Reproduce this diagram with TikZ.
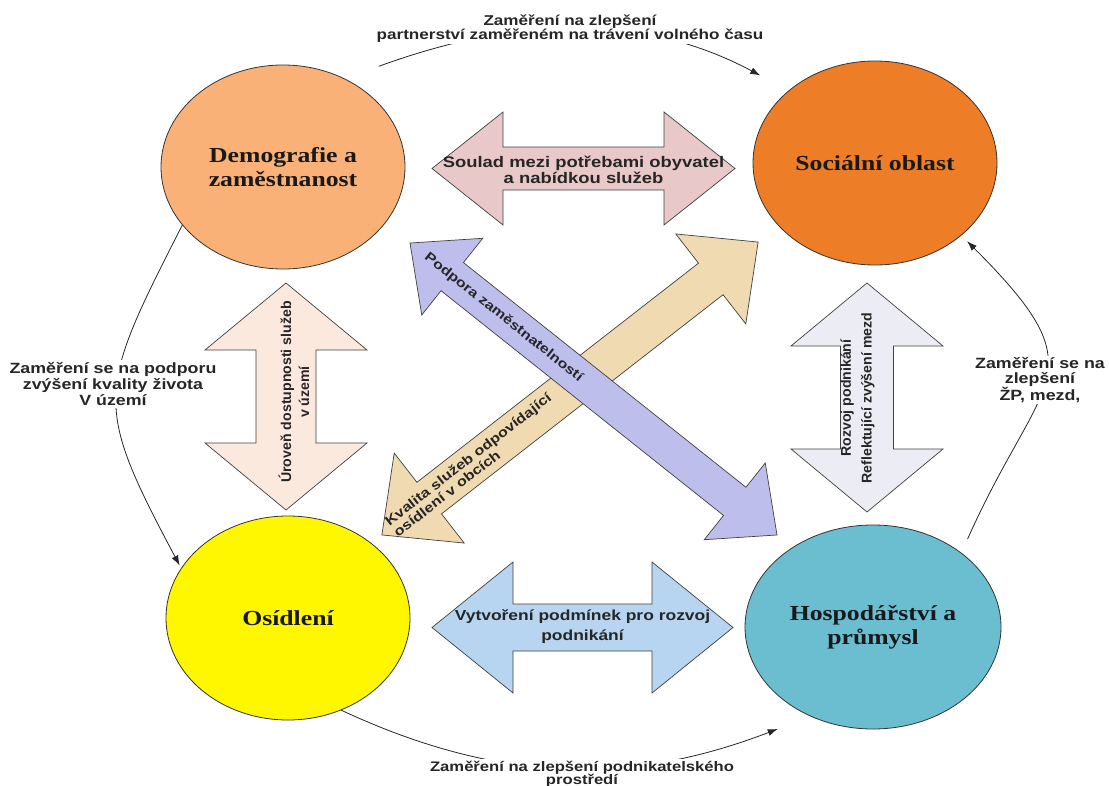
\documentclass[tikz,border=0pt]{standalone}
\usepackage{fontspec}
\setmainfont{Liberation Sans}
\newfontfamily\lblfont[FakeStretch=1.2]{Liberation Sans}
\newfontfamily\vlblfont{Liberation Sans}
\newfontfamily\ttlfont[FakeStretch=1.2]{Liberation Serif}
\usetikzlibrary{shapes.geometric,arrows.meta}
\definecolor{demcol}{RGB}{249,177,119}
\definecolor{soccol}{RGB}{238,125,40}
\definecolor{osicol}{RGB}{255,247,0}
\definecolor{hoscol}{RGB}{107,189,208}
\definecolor{pinkcol}{RGB}{232,200,200}
\definecolor{peachcol}{RGB}{252,233,222}
\definecolor{tancol}{RGB}{240,218,178}
\definecolor{lilaccol}{RGB}{190,190,236}
\definecolor{greycol}{RGB}{236,236,244}
\definecolor{bluecol}{RGB}{183,212,240}
\tikzset{%
  sphere/.style    = {shape=ellipse, draw=black!80, line width=0.8pt,%
                      inner sep=0pt, minimum width=244bp, minimum height=204bp,%
                      align=center, text=black!90,%
                      font=\ttlfont\bfseries\fontsize{21.5}{24}\selectfont},%
  link/.style      = {-{Latex[length=10bp,width=7bp]}, line width=0.8pt, black!85},%
  note/.style      = {fill=white, align=center, inner sep=1.5pt, text=black!85},%
  arrowbody/.style = {draw=black!75, line width=0.7pt},%
  arrowtext/.style = {align=center, inner sep=0pt, text=black!85}%
}
\newcommand{\dblarrow}[5]{%
  \draw[arrowbody, fill=#1] (-#2,0) -- (-#2+#3,#4) -- (-#2+#3,#5) -- (#2-#3,#5)%
    -- (#2-#3,#4) -- (#2,0) -- (#2-#3,-#4) -- (#2-#3,-#5) -- (-#2+#3,-#5)%
    -- (-#2+#3,-#4) -- cycle;}
\begin{document}
\begin{tikzpicture}[x=1bp, y=1bp]
	\useasboundingbox (0,0) rectangle (1109,-786);
	% the four areas
	\node[sphere, fill=demcol] (dem) at (283,-167) {Demografie a\\zaměstnanost};
	\node[sphere, fill=soccol] (soc) at (875,-163) {Sociální oblast};
	\node[sphere, fill=osicol] (osi) at (288,-618) {Osídlení};
	\node[sphere, fill=hoscol, minimum width=256bp] (hos) at (873,-627) {Hospodářství a\\průmysl};
	% links round the outside
	\draw[link, shorten <=36bp, shorten >=32bp] (dem.55) to[out=20, in=152] (soc.140);
	\draw[link, shorten >=3bp] (dem.210) to[out=243, in=118, looseness=1.4] (osi.155);
	\draw[link, shorten >=35bp] (osi.300) to[out=-25, in=201] (hos.235);
	\draw[link, shorten <=15bp, shorten >=8bp] (hos.40) to[out=66, in=-45, looseness=1.6] (soc.320);
	\node[note, font=\lblfont\bfseries\fontsize{14.3}{13.5}\selectfont] (toplbl) at (570,-28.5)%
		{Zaměření na zlepšení\\partnerství zaměřeném na trávení volného času};
	\node[note, font=\lblfont\bfseries\fontsize{14.9}{16.5}\selectfont] (leftlbl) at (113,-384)%
		{Zaměření se na podporu\\zvýšení kvality života\\V území};
	\node[note, font=\lblfont\bfseries\fontsize{14.9}{15}\selectfont] (rightlbl) at (1040,-380)%
		{Zaměření se na\\zlepšení\\ŽP, mezd,};
	\node[note, font=\lblfont\bfseries\fontsize{13.9}{13.5}\selectfont] (botlbl) at (582,-774)%
		{Zaměření na zlepšení podnikatelského\\prostředí};
	% double arrows between the areas
	\begin{scope}[shift={(583.5,-168.5)}]
		\dblarrow{pinkcol}{151.5}{71}{56.5}{21.5}
		\node[arrowtext, font=\lblfont\bfseries\fontsize{15.4}{16.5}\selectfont] (soulad) at (0,-1.5)%
			{Soulad mezi potřebami obyvatel\\a nabídkou služeb};
	\end{scope}
	\begin{scope}[shift={(582.5,-627.5)}]
		\dblarrow{bluecol}{150.5}{81}{65.5}{23.5}
		\node[arrowtext, font=\lblfont\bfseries\fontsize{14.6}{20}\selectfont] (vytvoreni) at (0,0.5)%
			{Vytvoření podmínek pro rozvoj\\podnikání};
	\end{scope}
	\begin{scope}[shift={(286,-396.5)}, rotate=90]
		\dblarrow{peachcol}{113.5}{67}{81}{30}
	\end{scope}
	\node[arrowtext, rotate=90, font=\vlblfont\bfseries\fontsize{14.2}{18}\selectfont] (uroven) at (294,-392)%
		{Úroveň dostupnosti služeb\\v území};
	\begin{scope}[shift={(867,-397.5)}, rotate=90]
		\dblarrow{greycol}{114.5}{63}{76}{26.5}
	\end{scope}
	\node[arrowtext, rotate=90, font=\vlblfont\bfseries\fontsize{14.2}{21}\selectfont] (rozvoj) at (857.5,-398)%
		{Rozvoj podnikání\\Reflektující zvýšení mezd};
	\begin{scope}[shift={(570,-388.5)}, rotate=37.9]
		\dblarrow{tancol}{238.4}{60}{57}{20}
		\node[arrowtext, align=left, rotate=37.9, font=\lblfont\bfseries\fontsize{13.5}{14}\selectfont] (kvalita) at (-124,0)%
			{Kvalita služeb odpovídající\\osídlení v obcích};
	\end{scope}
	\begin{scope}[shift={(593.5,-389)}, rotate=-38.5]
		\dblarrow{lilaccol}{234.5}{54}{49}{18}
		\node[arrowtext, rotate=-38.5, font=\lblfont\bfseries\fontsize{13.3}{14}\selectfont] (podpora) at (-115,0)%
			{Podpora zaměstnatelností};
	\end{scope}
\end{tikzpicture}
\end{document}
